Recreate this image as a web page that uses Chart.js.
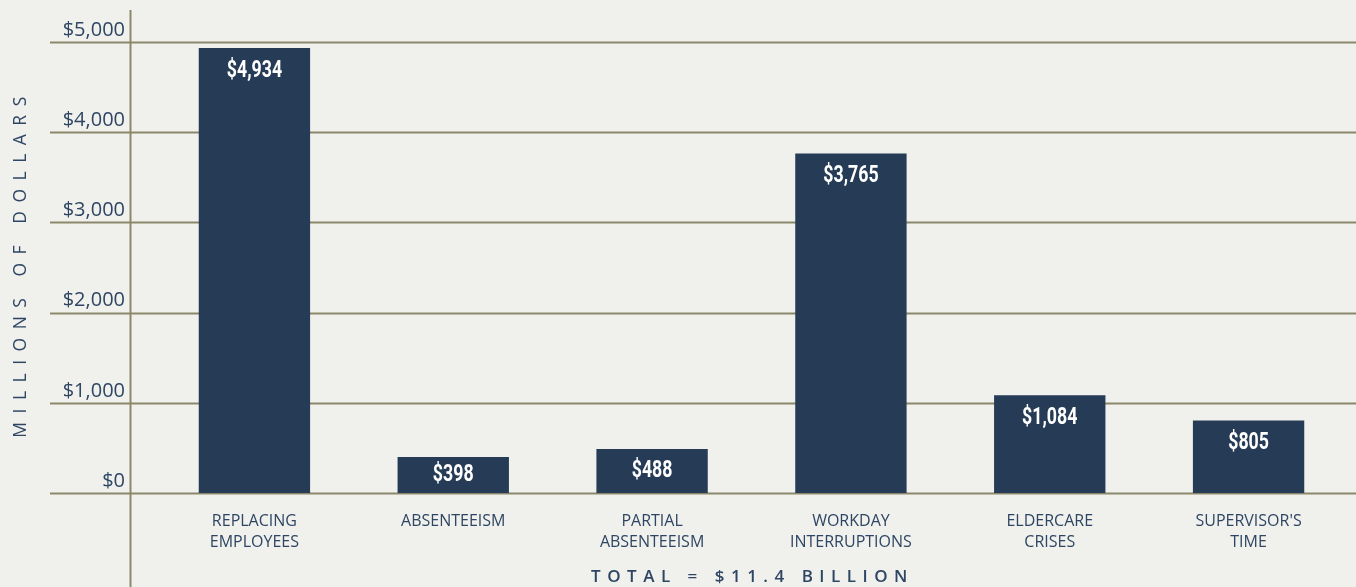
<!DOCTYPE html>
<html>
<head>
<meta charset="utf-8">
<script src="https://cdn.jsdelivr.net/npm/chart.js@4/dist/chart.umd.min.js"></script>
<style>
  html, body { margin: 0; padding: 0; background: #f0f0ec; }
  #wrap { width: 1356px; height: 587px; position: relative; }
</style>
</head>
<body>
<div id="wrap"><canvas id="costChart"></canvas></div>
<script>
const categories = [
    ["REPLACING", "EMPLOYEES"],
    ["ABSENTEEISM"],
    ["PARTIAL", "ABSENTEEISM"],
    ["WORKDAY", "INTERRUPTIONS"],
    ["ELDERCARE", "CRISES"],
    ["SUPERVISOR'S", "TIME"]
];
const costs = [4934, 398, 488, 3765, 1084, 805];
const yTicks = [0, 1000, 2000, 3000, 4000, 5000];
const yTitle = "MILLIONS OF DOLLARS";
const xTitle = "TOTAL = $11.4 BILLION";

const ink = "#2e4663";
const rule = "#8b876b";
const barColor = "#263b55";

function money(v) {
    return "$" + v.toLocaleString("en-US");
}

// gridlines reach past the axis, vertical axis runs full height
var frame = {
    id: "frame",
    beforeDatasetsDraw(chart) {
        const ctx = chart.ctx;
        const y = chart.scales.y;
        ctx.save();
        ctx.strokeStyle = rule;
        ctx.lineWidth = 2;
        yTicks.forEach(function (t) {
            const py = Math.round(y.getPixelForValue(t)) + 0.5;
            ctx.beginPath();
            ctx.moveTo(50, py);
            ctx.lineTo(chart.width, py);
            ctx.stroke();
        });
        ctx.beginPath();
        ctx.moveTo(130.5, 10);
        ctx.lineTo(130.5, chart.height);
        ctx.stroke();
        ctx.restore();
    },
    afterDatasetsDraw(chart) {
        const ctx = chart.ctx;
        const meta = chart.getDatasetMeta(0);
        ctx.save();
        ctx.fillStyle = "#ffffff";
        ctx.textAlign = "center";
        ctx.textBaseline = "middle";
        ctx.font = "bold 24px Roboto";
        meta.data.forEach(function (bar, i) {
            const h = bar.base - bar.y;
            const ty = bar.y + Math.min(23, h / 2);
            ctx.save();
            ctx.translate(bar.x, ty);
            ctx.scale(0.74, 1);
            ctx.fillText(money(costs[i]), 0, 0);
            ctx.restore();
        });

        // axis titles with wide tracking
        ctx.fillStyle = ink;
        ctx.letterSpacing = "8.5px";
        ctx.font = "17.5px 'Open Sans'";
        const area = chart.chartArea;
        ctx.save();
        ctx.translate(21, 267);
        ctx.rotate(-Math.PI / 2);
        ctx.fillText(yTitle, 4, 0);
        ctx.restore();

        ctx.letterSpacing = "6.5px";
        ctx.font = "600 17px 'Open Sans'";
        ctx.fillText(xTitle, (area.left + area.right) / 2 + 1, 577);
        ctx.restore();
    }
};

new Chart(document.getElementById("costChart"), {
    type: "bar",
    data: {
        labels: categories,
        datasets: [{
            data: costs,
            backgroundColor: barColor,
            barPercentage: 0.56,
            categoryPercentage: 1
        }]
    },
    options: {
        responsive: true,
        maintainAspectRatio: false,
        animation: false,
        layout: { padding: { top: 41, right: 8, bottom: 0, left: 0 } },
        plugins: {
            legend: { display: false },
            tooltip: { enabled: false }
        },
        scales: {
            x: {
                grid: { display: false, drawTicks: false },
                border: { display: false },
                ticks: {
                    color: ink,
                    font: { family: "'Open Sans'", size: 16, lineHeight: 1.3 },
                    padding: 18,
                    maxRotation: 0,
                    autoSkip: false
                },
                afterFit: function (scale) { scale.height = 94; }
            },
            y: {
                min: 0,
                max: 5000,
                afterBuildTicks: function (scale) {
                    scale.ticks = yTicks.map(function (v) { return { value: v }; });
                },
                grid: { display: false, drawTicks: false },
                border: { display: false },
                ticks: {
                    color: ink,
                    font: { family: "'Open Sans'", size: 20 },
                    padding: 30,
                    labelOffset: -12,
                    callback: function (v) { return money(v); }
                },
                afterFit: function (scale) { scale.width = 155; }
            }
        }
    },
    plugins: [frame]
});
</script>
</body>
</html>
